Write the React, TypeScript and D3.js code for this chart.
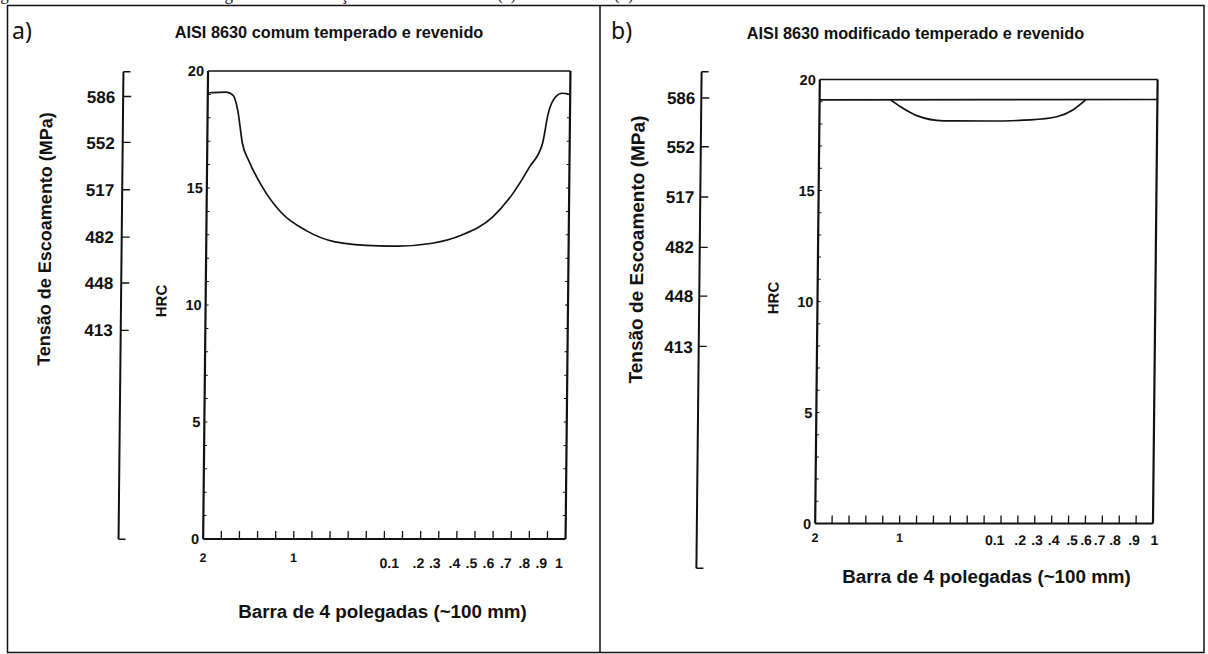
import React from "react";
import * as d3 from "d3";

// ---------- data ----------
const X_DOMAIN: [number, number] = [0, 20];
const HRC_DOMAIN: [number, number] = [0, 20];
const YIELD_DOMAIN: [number, number] = [258.5, 604.3];

const X_TICKS = d3.range(1, 20);
const HRC_MINOR_TICKS = d3.range(1, 20);
const HRC_LABELS = [0, 5, 10, 15, 20];
const YIELD_TICKS = [586, 552, 517, 482, 448, 413];

const X_MAJOR_LABELS = ["2", "1"];
const X_MAJOR_POS = [0, 5];
const X_MINOR_LABELS = ["0.1", ".2", ".3", ".4", ".5", ".6", ".7", ".8", ".9", "1"];
const X_MINOR_POS_A = [10.29, 11.9, 12.8, 13.88, 14.82, 15.76, 16.72, 17.74, 18.68, 19.65];
const X_MINOR_POS_B = [10.64, 12.15, 13.15, 14.13, 15.22, 16.05, 16.85, 17.77, 18.89, 20.1];

// Panel a: common steel hardness profile (position index, HRC)
const PROFILE_A_X = [0, 1.0, 1.39, 1.66, 1.94, 2.31, 3.05, 4.16, 5.46, 7.11, 9.5, 10.6, 12.47, 14.1, 15.8, 16.9, 17.8, 18.5, 18.8, 19.2, 19.55, 20];
const PROFILE_A_HRC = [19.07, 19.1, 18.97, 18.33, 16.9, 16.15, 15.06, 13.92, 13.2, 12.7, 12.53, 12.52, 12.64, 12.99, 13.77, 14.77, 15.9, 16.9, 18.19, 18.9, 19.05, 18.99];

// Panel b: modified steel
const FLAT_B_X = [0, 20];
const FLAT_B_HRC = [19.08, 19.1];
const DIP_B_X = [4.2, 4.8, 5.8, 7.35, 10.1, 12.5, 14.05, 15.0, 15.75];
const DIP_B_HRC = [19.08, 18.77, 18.36, 18.14, 18.13, 18.18, 18.32, 18.63, 19.08];

const TITLE_A = "AISI 8630 comum temperado e revenido";
const TITLE_B = "AISI 8630 modificado temperado e revenido";
const YIELD_TITLE = "Tensão de Escoamento (MPa)";
const HRC_TITLE = "HRC";
const X_TITLE = "Barra de 4 polegadas (~100 mm)";
const CAPTION = "Figura 17 – Perfis de dureza ao longo da barra dos aços AISI 8630 comum (a) e modificado (b)";

// ---------- style ----------
const INK = "#111";
const SANS = "'Liberation Sans', Arial, Helvetica, sans-serif";

type Cfg = {
  letter: string; letterX: number;
  title: string; titleX: number; titleY: number;
  yieldX: number; yieldRange: [number, number]; yieldGap: number;
  yieldTitleX: number; yieldTitleY: number; yieldTitleSize: number;
  hrcTitleX: number; hrcTitleY: number;
  xRange: [number, number]; yRange: [number, number]; skewCy: number;
  xMajorDy: number; xMinorDy: number; xMinorPos: number[];
  xTitleX: number; xTitleY: number; rightMinor: boolean;
  series: { xs: number[]; ys: number[] }[];
};

const PANEL_A: Cfg = {
  letter: "a)", letterX: 12,
  title: TITLE_A, titleX: 329, titleY: 38,
  yieldX: 121, yieldRange: [539.3, 71.7], yieldGap: 8,
  yieldTitleX: 44, yieldTitleY: 239, yieldTitleSize: 18,
  hrcTitleX: 161, hrcTitleY: 301,
  xRange: [205.6, 568], yRange: [539, 71], skewCy: 305,
  xMajorDy: 22.7, xMinorDy: 29.3, xMinorPos: X_MINOR_POS_A,
  xTitleX: 382.5, xTitleY: 617.5, rightMinor: true,
  series: [{ xs: PROFILE_A_X, ys: PROFILE_A_HRC }],
};

const PANEL_B: Cfg = {
  letter: "b)", letterX: 611,
  title: TITLE_B, titleX: 915.5, titleY: 39,
  yieldX: 699.2, yieldRange: [568.3, 71.7], yieldGap: 6,
  yieldTitleX: 636, yieldTitleY: 249.5, yieldTitleSize: 19,
  hrcTitleX: 773, hrcTitleY: 298,
  xRange: [817.5, 1155.3], yRange: [523.5, 79.5], skewCy: 301,
  xMajorDy: 18.4, xMinorDy: 21.7, xMinorPos: X_MINOR_POS_B,
  xTitleX: 986.5, xTitleY: 583, rightMinor: false,
  series: [
    { xs: FLAT_B_X, ys: FLAT_B_HRC },
    { xs: DIP_B_X, ys: DIP_B_HRC },
  ],
};

function Panel({ cfg }: { cfg: Cfg }) {
  const x = d3.scaleLinear().domain(X_DOMAIN).range(cfg.xRange);
  const y = d3.scaleLinear().domain(HRC_DOMAIN).range(cfg.yRange);
  const ys = d3.scaleLinear().domain(YIELD_DOMAIN).range(cfg.yieldRange);
  const line = d3
    .line<[number, number]>()
    .x((d) => x(d[0]))
    .y((d) => y(d[1]))
    .curve(d3.curveMonotoneX);

  const x0 = x(0), x1 = x(20), y0 = y(0), y20 = y(20);
  const yTop = ys(YIELD_DOMAIN[1]), yBot = ys(YIELD_DOMAIN[0]);
  const skew = `translate(0,${cfg.skewCy}) skewX(-0.6) translate(0,${-cfg.skewCy})`;

  return (
    <g>
      <text x={cfg.letterX} y={39} fontFamily="'Noto Sans', 'Open Sans', sans-serif" fontSize={23} fill={INK}>
        {cfg.letter}
      </text>
      <text x={cfg.titleX} y={cfg.titleY} textAnchor="middle" fontFamily={SANS} fontWeight="bold" fontSize={16.3} fill={INK}>
        {cfg.title}
      </text>

      <g transform={skew}>
        {/* yield strength axis */}
        <line x1={cfg.yieldX} x2={cfg.yieldX} y1={yTop} y2={yBot} stroke={INK} strokeWidth={2} />
        <line x1={cfg.yieldX} x2={cfg.yieldX + 7} y1={yTop} y2={yTop} stroke={INK} strokeWidth={1.6} />
        <line x1={cfg.yieldX} x2={cfg.yieldX + 7} y1={yBot} y2={yBot} stroke={INK} strokeWidth={1.6} />
        {YIELD_TICKS.map((t) => (
          <g key={t}>
            <line x1={cfg.yieldX} x2={cfg.yieldX + 8} y1={ys(t)} y2={ys(t)} stroke={INK} strokeWidth={1.4} />
            <text x={cfg.yieldX - cfg.yieldGap} y={ys(t)} dy="0.36em" textAnchor="end" fontFamily={SANS} fontWeight="bold" fontSize={17} fill={INK}>
              {t}
            </text>
          </g>
        ))}
        <text
          transform={`translate(${cfg.yieldTitleX},${cfg.yieldTitleY}) rotate(-90)`}
          dy="0.36em" textAnchor="middle" fontFamily={SANS} fontWeight="bold" fontSize={cfg.yieldTitleSize} fill={INK}
        >
          {YIELD_TITLE}
        </text>

        {/* HRC axis */}
        <text
          transform={`translate(${cfg.hrcTitleX},${cfg.hrcTitleY}) rotate(-90)`}
          dy="0.36em" textAnchor="middle" fontFamily={SANS} fontWeight="bold" fontSize={15} fill={INK}
        >
          {HRC_TITLE}
        </text>
        <line x1={x0} x2={x0} y1={y20} y2={y0} stroke={INK} strokeWidth={2.2} />
        <line x1={x1} x2={x1} y1={y20} y2={y0} stroke={INK} strokeWidth={2.2} />
        <line x1={x0} x2={x1} y1={y20} y2={y20} stroke={INK} strokeWidth={1.7} />
        <line x1={x0} x2={x1} y1={y0} y2={y0} stroke={INK} strokeWidth={2.2} />
        {HRC_MINOR_TICKS.map((t) => (
          <g key={t}>
            <line x1={x0} x2={x0 + 3} y1={y(t)} y2={y(t)} stroke={INK} strokeWidth={1} />
            {cfg.rightMinor && <line x1={x1} x2={x1 - 3} y1={y(t)} y2={y(t)} stroke={INK} strokeWidth={1} />}
          </g>
        ))}
        {HRC_LABELS.map((t) => (
          <text key={t} x={x0 - 4} y={y(t)} dy="0.36em" textAnchor="end" fontFamily={SANS} fontWeight="bold" fontSize={14.5} fill={INK}>
            {t}
          </text>
        ))}

        {/* x axis */}
        {X_TICKS.map((t) => (
          <line key={t} x1={x(t)} x2={x(t)} y1={y0} y2={y0 - 8} stroke={INK} strokeWidth={1.3} />
        ))}
        {X_MAJOR_LABELS.map((l, i) => (
          <text key={i} x={x(X_MAJOR_POS[i])} y={y0 + cfg.xMajorDy} textAnchor="middle" fontFamily={SANS} fontWeight="bold" fontSize={12.5} fill={INK}>
            {l}
          </text>
        ))}
        {X_MINOR_LABELS.map((l, i) => (
          <text key={i} x={x(cfg.xMinorPos[i])} y={y0 + cfg.xMinorDy} textAnchor="middle" fontFamily={SANS} fontWeight="bold" fontSize={14} fill={INK}>
            {l}
          </text>
        ))}

        {/* curves */}
        {cfg.series.map((s, i) => (
          <path
            key={i}
            d={line(s.xs.map((v, j) => [v, s.ys[j]] as [number, number])) || ""}
            fill="none"
            stroke={INK}
            strokeWidth={1.7}
          />
        ))}
      </g>

      <text x={cfg.xTitleX} y={cfg.xTitleY} textAnchor="middle" fontFamily={SANS} fontWeight="bold" fontSize={18.8} fill={INK}>
        {X_TITLE}
      </text>
    </g>
  );
}

export default function App() {
  return (
    <>
      <style>{`body{margin:0;background:#fff;}`}</style>
      <svg width={1208} height={654} style={{ display: "block", background: "#fff" }}>
        <text x={-14} y={0} fontFamily="'Liberation Serif', 'Times New Roman', serif" fontSize={17} fill={INK}>
          {CAPTION}
        </text>
        <rect x={7.5} y={5.5} width={1196.5} height={647} fill="none" stroke={INK} strokeWidth={1.5} />
        <line x1={600} x2={600} y1={5.5} y2={652.5} stroke={INK} strokeWidth={1.5} />
        <Panel cfg={PANEL_A} />
        <Panel cfg={PANEL_B} />
      </svg>
    </>
  );
}
